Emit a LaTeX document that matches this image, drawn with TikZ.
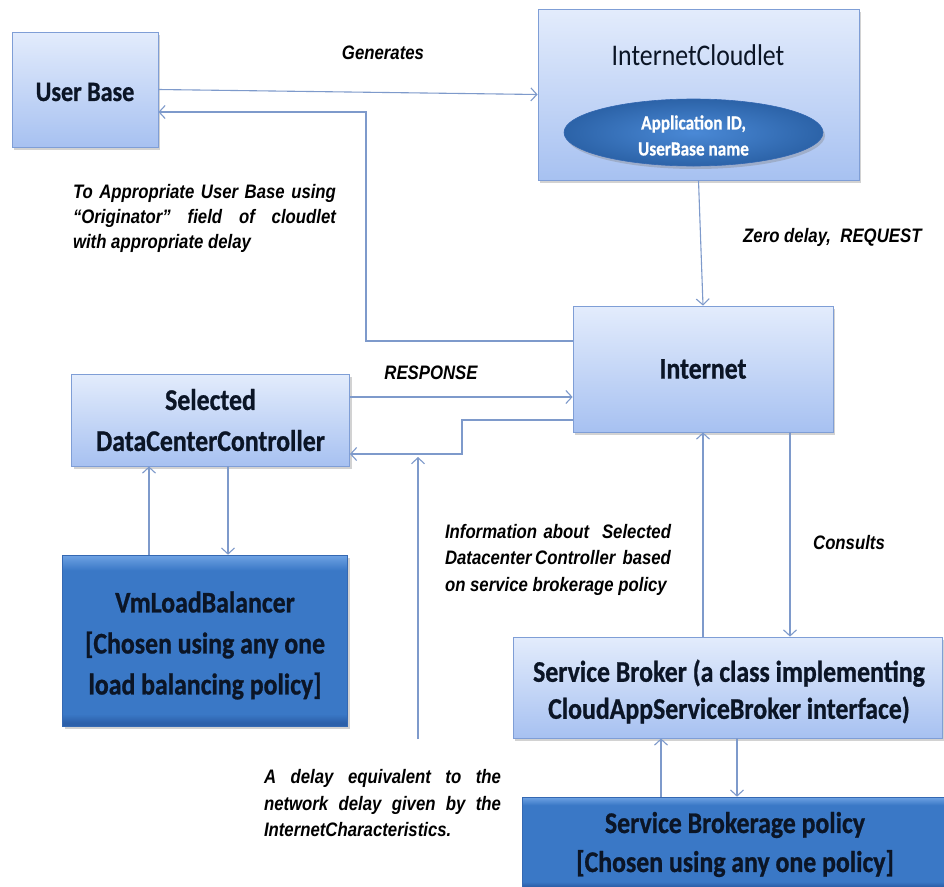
\documentclass[tikz,border=0pt]{standalone}
\usepackage{fontspec}
\setmainfont{Carlito}
\newfontfamily\boxfont[FakeStretch=0.86, BoldFeatures={FakeBold=0.8}]{Carlito}
\newfontfamily\lblfont[FakeStretch=0.86]{Liberation Sans}
\usetikzlibrary{arrows.meta,shadows,shapes.geometric,calc}

\definecolor{edgeblue}{HTML}{7E9ACB}
\definecolor{boxline}{HTML}{7F9ED6}
\definecolor{lighttop}{HTML}{E3ECFC}
\definecolor{lightbot}{HTML}{A7C1F1}
\definecolor{bevtop}{HTML}{6FA3E4}
\definecolor{bevmid}{HTML}{3A78C6}
\definecolor{bevbot}{HTML}{2C60AA}
\definecolor{darkline}{HTML}{3468B2}
\definecolor{gelin}{HTML}{4A89D6}
\definecolor{gelout}{HTML}{2C63A8}
\definecolor{inktext}{HTML}{0B1526}

% flat blue fill with a light top band and a darker bottom rim
\pgfdeclareverticalshading{bevelblue}{100bp}{%
  color(0bp)=(bevbot); color(26bp)=(bevbot); color(28.5bp)=(bevmid);
  color(70.5bp)=(bevmid); color(75bp)=(bevtop); color(100bp)=(bevtop)}

\tikzset{
  boxshadow/.style={drop shadow={shadow xshift=2pt,shadow yshift=-3pt,opacity=0.35}},
  lightbox/.style={draw=boxline, line width=0.8pt, top color=lighttop,
    bottom color=lightbot, boxshadow, inner sep=0pt, text=inktext, align=center},
  darkbox/.style={draw=darkline, line width=0.6pt, shading=bevelblue, boxshadow,
    inner sep=0pt},
  gel/.style={ellipse, draw=darkline, line width=0.6pt, inner color=gelin,
    outer color=gelout, boxshadow, inner sep=0pt},
  bigtext/.style={font=\boxfont\bfseries\fontsize{30}{#1}\selectfont,
    text=inktext, align=center},
  lbl/.style={font=\lblfont\bfseries\itshape\fontsize{19.5}{#1}\selectfont, inner sep=0pt},
  arr/.style={draw=edgeblue, line width=1.1pt, -{Straight Barb[length=6pt,width=13pt]}},
}

\begin{document}
\begin{tikzpicture}[x=1pt,y=-1pt]
\useasboundingbox (0,0) rectangle (944,886);
\fill[white] (0,0) rectangle (944,886);
\clip (0,0) rectangle (944,886);

% ---- boxes ----
\node[lightbox, minimum width=146pt, minimum height=115pt] (ub) at (85,89.5) {};
\node[font=\boxfont\bfseries\fontsize{28}{34}\selectfont, text=inktext] (ubtext)
      at (85,92) {User Base};

\node[lightbox, minimum width=321pt, minimum height=171pt] (ic) at (698.5,94.5) {};
\node[font=\boxfont\fontsize{30}{36}\selectfont, text=inktext] (ictitle) at (698,55) {InternetCloudlet};
\node[gel, minimum width=259pt, minimum height=67pt] (ell) at (693.5,132.5) {};
\node[font=\boxfont\bfseries\fontsize{20}{26}\selectfont, text=white, align=center]
      (elltext) at (693.5,135.5) {Application ID,\\UserBase name};

\node[lightbox, minimum width=260pt, minimum height=126pt, bigtext=36] (inet) at (703,369) {Internet};

\node[lightbox, minimum width=278pt, minimum height=92pt, bigtext=41] (dcc) at (210.5,420)
      {Selected\\DataCenterController};

\node[darkbox, minimum width=285pt, minimum height=171pt] (vlb) at (205,640.5) {};
\node[bigtext=41] (vlbtext) at (205,645.5)
      {VmLoadBalancer\\{[}Chosen using any one\\load balancing policy{]}};

\node[lightbox, minimum width=429pt, minimum height=101pt] (sb) at (727.5,687.5) {};
\node[bigtext=37] (sbtext) at (729,691.5)
      {Service Broker (a class implementing\\CloudAppServiceBroker interface)};

\node[darkbox, minimum width=428pt, minimum height=91pt] (sbp) at (736,842.5) {};
\node[bigtext=39] (sbptext) at (735,844.5)
      {Service Brokerage policy\\{[}Chosen using any one policy{]}};

% ---- labels ----
\node[lbl=24] (lgen) at (383,53) {Generates};
\node[lbl=25, text width=263pt, align=justify] (lorig) at (204.5,218)
  {To Appropriate User Base using\linebreak
   “Originator” field of cloudlet\linebreak
   with appropriate delay};
\node[lbl=24, anchor=west] (lzero) at (743,237) {Zero delay,\ \ REQUEST};
\node[lbl=24] (lresp) at (431,373) {RESPONSE};
\node[lbl=26.5, text width=226pt, align=justify] (linfo) at (558,559.5)
  {Information about\ \ Selected\linebreak
   Datacenter Controller\ \ based\linebreak
   on service brokerage policy};
\node[lbl=24] (lcons) at (849,543) {Consults};
\node[lbl=26.5, text width=237pt, align=justify] (ldelay) at (382.5,803.5)
  {A delay equivalent to the\linebreak
   network delay given by the\linebreak
   InternetCharacteristics.};

% ---- connectors ----
\draw[arr] (ub.east) -- (ic.west);
\draw[arr] (ic.south) -- (inet.north);

% response routed back to the user base
\coordinate (backcorner) at (366,112);
\draw[arr] (inet.west |- 0,341) -| (backcorner) -- (ub.east |- backcorner);

% response from the datacenter controller
\draw[arr] (dcc.east |- 0,397) -- (inet.west |- 0,397);

% request forwarded to the datacenter controller
\coordinate (fwdcorner) at (462,454);
\draw[arr] (inet.west |- 0,420) -| (fwdcorner) -- (dcc.east |- fwdcorner);

% network delay marker
\coordinate (delaystart) at (418,739);
\coordinate (delayend) at (418,457);
\draw[arr] (delaystart) -- (delayend);

% controller <-> load balancer
\draw[arr] (vlb.north -| 149,0) -- (dcc.south -| 149,0);
\draw[arr] (dcc.south -| 228,0) -- (vlb.north -| 228,0);

% internet <-> service broker
\draw[arr] (sb.north -| 703,0) -- (inet.south -| 703,0);
\draw[arr] (inet.south -| 790,0) -- (sb.north -| 790,0);

% service broker <-> brokerage policy
\draw[arr] (sbp.north -| 661,0) -- (sb.south -| 661,0);
\draw[arr] (sb.south -| 737,0) -- (sbp.north -| 737,0);
\end{tikzpicture}
\end{document}
